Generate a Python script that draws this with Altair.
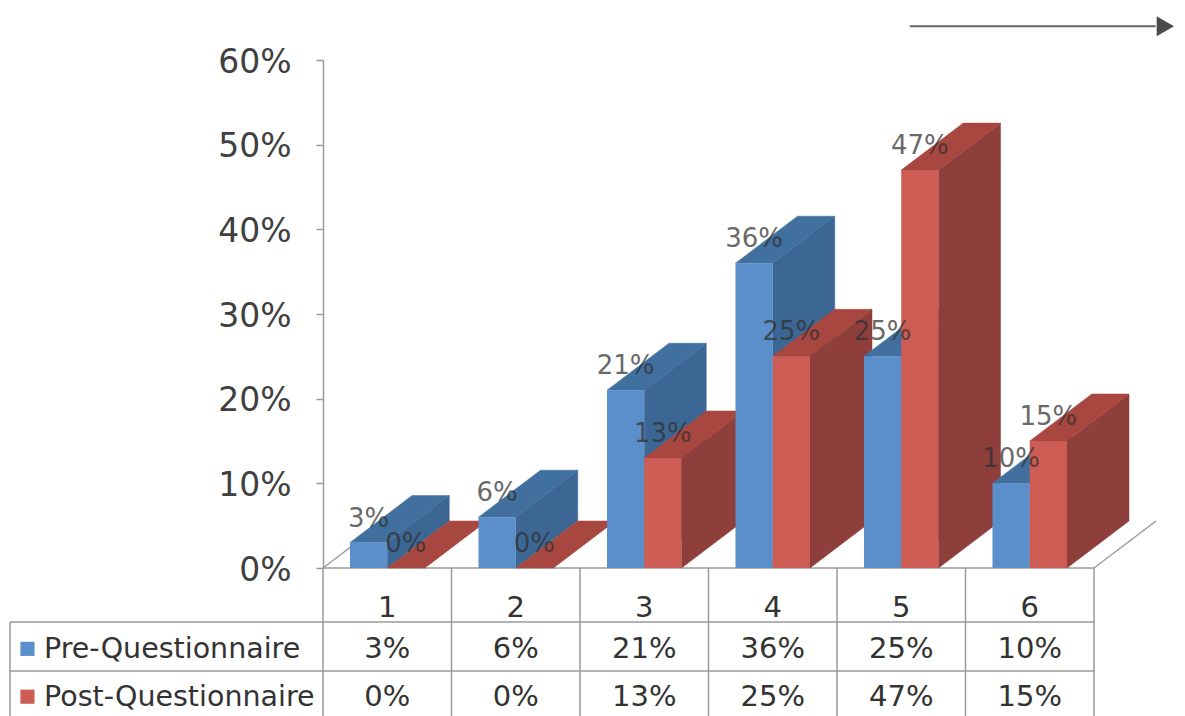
import altair as alt
import pandas as pd

categories = [1, 2, 3, 4, 5, 6]
series_names = ["Pre-Questionnaire", "Post-Questionnaire"]
pre_values = [3, 6, 21, 36, 25, 10]
post_values = [0, 0, 13, 25, 47, 15]
y_ticks = [0, 10, 20, 30, 40, 50, 60]

FONT = "DejaVu Sans"
BAR_W = 0.29
DX = 0.4825
DY = 5.55
GRID = "#9a9a9a"
STYLE = {
    "Pre-Questionnaire": dict(front="#5b8fcb", top="#41709f", side="#3c6794"),
    "Post-Questionnaire": dict(front="#cd5c55", top="#a8473f", side="#8f3f3b"),
}
TABLE_TOP, LINE_1, LINE_2, TABLE_BOTTOM = 0, -6.38, -12.16, -17.48
ROW_CAT, ROW_PRE, ROW_POST = -4.7, -9.55, -15.2
TABLE_LEFT, LEGEND_TEXT, LEGEND_KEY = -1.936, -1.671, -1.8

y_axis = alt.Axis(values=y_ticks, labelExpr="datum.value + '%'", grid=False,
                  domainColor=GRID, domainWidth=1.5, tickColor=GRID, tickWidth=1.5, tickSize=7,
                  labelFont=FONT, labelFontSize=33, labelColor="#404040", labelPadding=25, labelOffset=2)


def X(field="x"):
    return alt.X(f"{field}:Q", scale=alt.Scale(domain=[0.5, 6.5], nice=False, zero=False), axis=None, title=None)


def Y(field="y"):
    return alt.Y(f"{field}:Q", scale=alt.Scale(domain=[0, 60], nice=False, zero=False), axis=y_axis, title=None)


def D(rows):
    return alt.Data(values=rows)


layers = []

# floor diagonals
for c in (0.5, 6.5):
    layers.append(alt.Chart(D([{"x": c, "y": 0}, {"x": c + DX, "y": DY}])).mark_line(color=GRID, strokeWidth=1.5)
                  .encode(x=X(), y=Y()))

# table lines
h_lines = [(0.5, 6.5, TABLE_TOP), (TABLE_LEFT, 6.5, LINE_1), (TABLE_LEFT, 6.5, LINE_2)]
layers.append(alt.Chart(D([{"x": a, "x2": b, "y": y} for a, b, y in h_lines]))
              .mark_rule(color=GRID, strokeWidth=1.5).encode(x=X(), x2="x2:Q", y=Y()))
v_lines = [(c - 0.5, TABLE_TOP) for c in categories] + [(6.5, TABLE_TOP), (TABLE_LEFT, LINE_1)]
layers.append(alt.Chart(D([{"x": x, "y": y, "y2": TABLE_BOTTOM} for x, y in v_lines]))
              .mark_rule(color=GRID, strokeWidth=1.5).encode(x=X(), y=Y(), y2="y2:Q"))

# 3D bars, painted back to front
labels = []
for i, c in enumerate(categories):
    for name, vals, x0 in ((series_names[0], pre_values, c - BAR_W), (series_names[1], post_values, c)):
        v = vals[i]
        x1 = x0 + BAR_W
        st = STYLE[name]
        side = [{"x": x1, "y": 0, "y2": v}, {"x": x1 + DX, "y": DY, "y2": v + DY}]
        layers.append(alt.Chart(D(side)).mark_area(color=st["side"], opacity=1, stroke=st["side"], strokeWidth=0.5)
                      .encode(x=X(), y=Y(), y2="y2:Q"))
        top = [{"y": v, "x": x0, "x2": x1}, {"y": v + DY, "x": x0 + DX, "x2": x1 + DX}]
        layers.append(alt.Chart(D(top)).mark_area(orient="horizontal", color=st["top"], opacity=1, stroke=st["top"], strokeWidth=0.5)
                      .encode(y=Y(), x=X(), x2="x2:Q"))
        if v > 0:
            front = [{"x": x0, "x2": x1, "y": 0, "y2": v}]
            layers.append(alt.Chart(D(front)).mark_rect(color=st["front"])
                          .encode(x=X(), x2="x2:Q", y=Y(), y2="y2:Q"))
        labels.append({"x": x0 + BAR_W / 2, "y": v, "t": f"{v}%"})

layers.append(alt.Chart(D(labels)).mark_text(font=FONT, fontSize=26, color="#303030", opacity=0.72, dy=-24, baseline="middle", align="center")
              .encode(x=X(), y=Y(), text="t:N"))

# table text
table = [{"x": c, "y": ROW_CAT, "t": str(c)} for c in categories]
table += [{"x": c, "y": ROW_PRE, "t": f"{v}%"} for c, v in zip(categories, pre_values)]
table += [{"x": c, "y": ROW_POST, "t": f"{v}%"} for c, v in zip(categories, post_values)]
layers.append(alt.Chart(D(table)).mark_text(font=FONT, fontSize=29, color="#333333", baseline="middle", align="center")
              .encode(x=X(), y=Y(), text="t:N"))

# legend keys and names in the table
legend_rows = [(series_names[0], ROW_PRE), (series_names[1], ROW_POST)]
layers.append(alt.Chart(D([{"x": LEGEND_TEXT, "y": y, "t": n} for n, y in legend_rows]))
              .mark_text(font=FONT, fontSize=28.5, color="#333333", baseline="middle", align="left")
              .encode(x=X(), y=Y(), text="t:N"))
for n, y in legend_rows:
    layers.append(alt.Chart(D([{"x": LEGEND_KEY, "y": y}])).mark_square(color=STYLE[n]["front"], size=200, opacity=1)
                  .encode(x=X(), y=Y()))

# arrow at top right (the page margin ends the drawing 8px before the window edge)
layers.append(alt.Chart(D([{"x": 5.066, "x2": 6.98, "y": 64.0}])).mark_rule(color="#666666", strokeWidth=2)
              .encode(x=X(), x2="x2:Q", y=Y()))
layers.append(alt.Chart(D([{"x": 7.055, "y": 64.0}])).mark_point(shape="triangle-right", filled=True, color="#4a4a4a", size=400, opacity=1)
              .encode(x=X(), y=Y()))

chart = (
    alt.layer(*layers)
    .properties(width=771, height=508, autosize=alt.AutoSizeParams(type="none"),
                padding={"left": 315, "top": 52, "right": 83, "bottom": 148})
    .configure_view(stroke=None)
)
chart.save("out.html", embed_options={"renderer": "svg", "actions": False})
